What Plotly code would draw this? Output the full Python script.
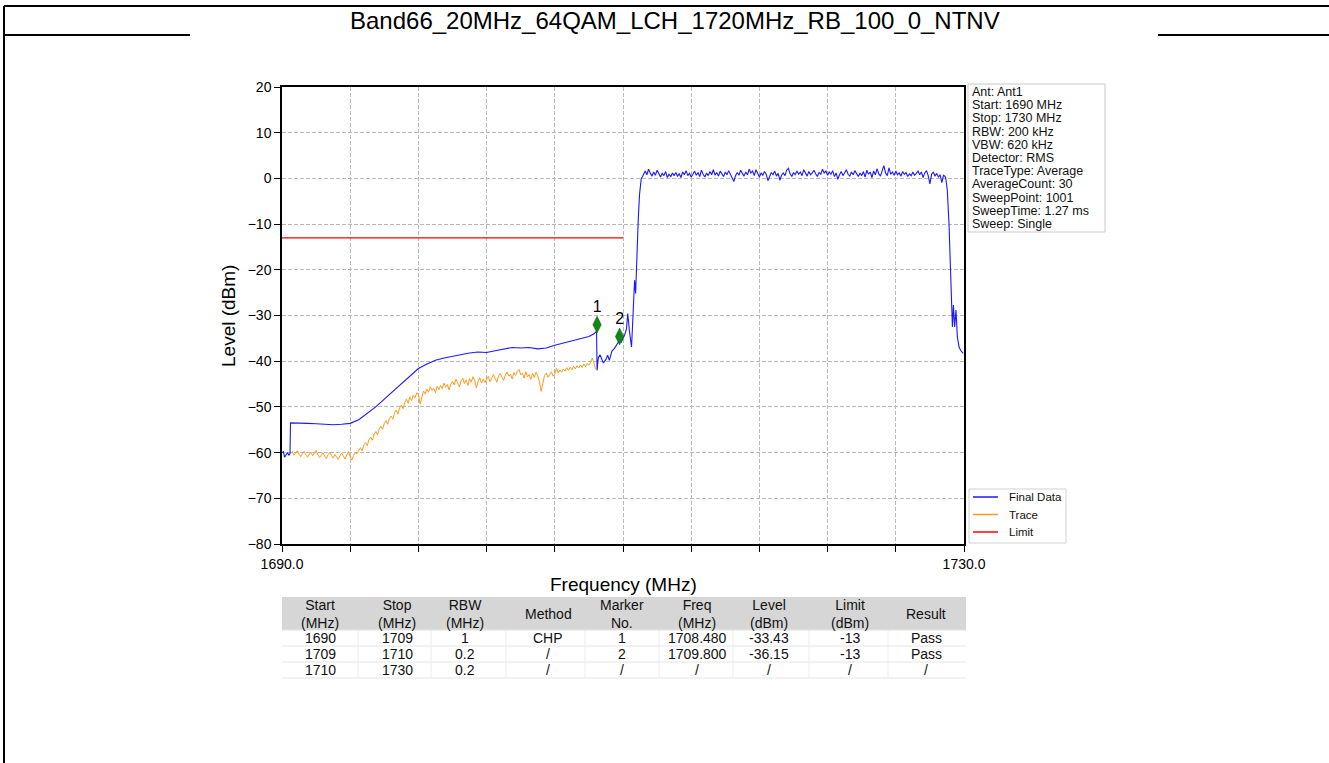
import plotly.graph_objects as go

W, H = 1329, 763


def px(x):
    return x / W


def py(y):
    return 1 - y / H


title_text = "Band66_20MHz_64QAM_LCH_1720MHz_RB_100_0_NTNV"

# ---------------- data ----------------
# Final Data, out-of-band part (explicit points)
final_low_freq = [1690.0, 1690.08, 1690.15, 1690.25, 1690.32, 1690.4, 1690.47, 1690.5,
                  1691.0, 1691.5, 1692.0, 1692.5, 1693.0, 1693.5, 1694.0, 1694.5, 1695.0,
                  1695.5, 1696.0, 1696.5, 1697.0, 1697.5, 1698.0, 1698.5, 1699.0, 1699.5,
                  1700.0, 1700.5, 1701.0, 1701.5, 1702.0, 1702.5, 1703.0, 1703.5, 1704.0,
                  1704.5, 1705.0, 1705.5, 1706.0, 1706.5, 1707.0, 1707.5, 1708.0, 1708.3,
                  1708.45, 1708.48, 1708.55, 1708.65, 1708.75, 1708.85, 1709.0, 1709.1,
                  1709.2, 1709.35, 1709.5, 1709.6, 1709.7, 1709.8, 1709.9, 1710.0, 1710.1,
                  1710.2, 1710.28, 1710.38, 1710.5, 1710.55, 1710.62, 1710.68, 1710.74,
                  1710.82, 1710.9, 1710.97, 1711.07, 1711.15]
final_low_level = [-60.0, -59.8, -61.0, -60.3, -60.0, -60.6, -60.2, -53.5,
                   -53.5, -53.6, -53.7, -53.8, -53.9, -53.8, -53.6, -52.8, -51.4,
                   -50.0, -48.3, -46.6, -44.9, -43.2, -41.6, -40.6, -39.8, -39.3,
                   -38.9, -38.5, -38.2, -38.0, -38.1, -37.7, -37.4, -37.0, -37.1,
                   -37.0, -37.3, -37.1, -36.5, -36.0, -35.5, -35.0, -34.6, -34.0,
                   -33.4, -42.0, -39.3, -38.6, -39.7, -40.4, -39.6, -38.7,
                   -39.8, -37.8, -37.2, -36.6, -36.0, -35.4, -35.8, -35.0, -34.2,
                   -33.0, -29.6, -33.5, -36.9, -33.0, -26.5, -22.3, -25.2,
                   -15.7, -8.5, -3.5, 0.0, 0.4]

# Final Data, in-band part (sweep points every 0.1 MHz from 1711.2 MHz)
final_band_start = 1711.2
final_band_step = 0.1
final_band_level = [
    0.9, 1.6, 0.8, 2.0, 1.2, 0.5, 1.4, 0.7, 1.8, 0.9,
    0.3, 1.1, 0.6, 1.5, 0.2, 0.9, 0.4, 1.2, 0.6, 1.3,
    0.5, 1.0, 0.2, 1.4, 0.8, 1.7, 0.6, 1.1, 0.3, 0.9,
    1.6, 0.7, 1.3, 0.4, 1.8, 0.9, 0.3, 1.2, 0.6, 1.5,
    0.8, 1.9, 0.7, 1.3, 0.5, 1.6, 1.0, 0.4, 1.4, 0.8,
    1.7, 0.9, 0.2, -0.7, 0.6, 1.3, 0.7, 1.8, 1.1, 0.5,
    1.4, 0.8, 2.0, 1.2, 1.6, 0.6, 1.9, 1.0, 0.3, 1.2,
    0.7, 1.5, 0.9, -0.5, 0.6, 1.3, 0.8, 1.6, 0.5, 1.1,
    -0.4, 0.7, 1.2, 0.6, 1.8, 2.2, 1.0, 0.4, 1.3, 0.8,
    1.6, 0.9, 1.4, 0.6, 1.9, 1.1, 0.5, 1.5, 0.8, 1.2,
    1.8, 1.0, 0.4, 1.3, 0.9, 2.0, 1.2, 1.6, 0.7, 1.4,
    0.9, 1.7, 0.4, 1.2, -0.2, 0.8, 1.5, 0.6, 1.3, 1.9,
    0.9, 0.5, 1.4, 0.8, 1.7, 1.0, 0.4, 1.2, 0.6, 1.5,
    0.3, 1.8, 0.9, 1.4, 0.2, 1.6, 0.8, 2.1, 1.0, 0.5,
    1.5, 2.8, 1.2, 0.6, 2.3, 0.9, 1.4, 0.7, 1.6, 0.8,
    1.2, 0.5, 1.5, 0.9, 1.3, 0.4, 1.0, 0.6, 1.4, 0.7,
    1.1, 1.6, 0.8, 1.4, 0.2, 1.2, 1.7, 0.6, -1.2, 0.9,
    1.4, 0.5, 1.1, 0.3, 0.8, -0.9, 0.7, 0.4]

# Final Data, upper band edge (explicit points)
final_edge_freq = [1728.93, 1729.02, 1729.12, 1729.22, 1729.32, 1729.38, 1729.45,
                   1729.53, 1729.61, 1729.71, 1729.8, 1729.95]
final_edge_level = [0.0, -2.6, -9.9, -19.3, -32.5, -27.7, -32.5,
                    -28.8, -34.7, -36.9, -37.6, -38.3]

# Trace (RBW 200 kHz), sweep points every 0.1 MHz from 1690.5 MHz
trace_start = 1690.5
trace_step = 0.1
trace_level = [
    -60.2, -59.8, -60.6, -60.1, -59.6, -60.4, -60.9, -60.2, -59.7, -60.5,
    -61.0, -60.3, -59.9, -60.7, -60.1, -59.5, -60.4, -61.1, -60.6, -60.0,
    -60.8, -61.3, -60.5, -59.9, -60.6, -61.2, -60.4, -60.9, -61.5, -60.7,
    -60.1, -60.8, -61.4, -60.5, -59.8, -60.9, -61.6, -60.6, -60.0, -60.3,
    -59.4, -58.9, -59.6, -58.3, -57.8, -58.5, -57.2, -56.6, -57.3, -56.0,
    -55.4, -56.1, -54.8, -54.2, -54.9, -53.6, -53.0, -53.8, -52.5, -52.0,
    -52.7, -51.3, -50.7, -51.6, -50.2, -49.6, -50.4, -49.0, -48.3, -49.2,
    -47.8, -48.6, -47.4, -48.0, -46.9,
    -47.3, -49.4, -47.6, -46.5, -47.2, -46.1, -46.8, -45.6, -46.4, -45.9,
    -46.9, -45.5, -46.2, -45.3, -46.0, -44.8, -45.7, -45.1, -46.3, -45.0,
    -44.4, -45.2, -43.9, -44.7, -45.6, -44.3, -43.7, -44.9, -44.1, -45.3,
    -43.8, -44.6, -43.4, -44.2, -45.8, -44.5, -43.6, -44.8, -43.9, -44.7,
    -44.1, -43.3, -44.5, -43.6, -42.9, -43.8, -44.6, -43.2, -42.7, -43.5,
    -44.2, -43.0, -42.4, -43.3, -42.8, -43.9, -42.5, -43.1, -42.2, -41.8,
    -43.0, -42.6, -43.7, -42.3, -43.4, -42.9, -44.0, -42.7, -43.6, -42.4,
    -43.2, -44.5, -46.6, -44.8, -43.1, -42.6, -43.5, -42.9, -42.3, -43.3,
    -42.8, -41.5, -42.6, -41.9, -42.4, -41.7, -42.2, -41.4, -42.0, -41.3,
    -41.9, -41.1, -41.7, -41.0, -41.5, -40.8, -41.4, -40.6, -41.2, -40.5,
    -40.9, -40.2, -39.3, -40.4, -41.8]

limit_freq = [1690.0, 1710.0]
limit_level = [-13.0, -13.0]

marker_no = ["1", "2"]
marker_freq = [1708.48, 1709.80]
marker_level = [-32.0, -34.6]

x_tick_vals = [1690, 1694, 1698, 1702, 1706, 1710, 1714, 1718, 1722, 1726, 1730]
x_tick_text = ["1690.0", "", "", "", "", "", "", "", "", "", "1730.0"]

info_lines = ["Ant: Ant1", "Start: 1690 MHz", "Stop: 1730 MHz", "RBW: 200 kHz",
              "VBW: 620 kHz", "Detector: RMS", "TraceType: Average",
              "AverageCount: 30", "SweepPoint: 1001", "SweepTime: 1.27 ms",
              "Sweep: Single"]

legend_names = ["Final Data", "Trace", "Limit"]

table_header = ["Start<br>(MHz)", "Stop<br>(MHz)", "RBW<br>(MHz)", "Method",
                "Marker<br>No.", "Freq<br>(MHz)", "Level<br>(dBm)", "Limit<br>(dBm)", "Result"]
table_rows = [
    ["1690", "1709", "1", "CHP", "1", "1708.480", "-33.43", "-13", "Pass"],
    ["1709", "1710", "0.2", "/", "2", "1709.800", "-36.15", "-13", "Pass"],
    ["1710", "1730", "0.2", "/", "/", "/", "/", "/", "/"],
]

# ---------------- styles ----------------
FONT = "Liberation Sans, Arial, sans-serif"
C_FINAL = "#1a1aff"
C_TRACE = "#ff9a1a"
C_LIMIT = "#ff0000"
C_MARK = "#118811"
legend_colors = [C_FINAL, C_TRACE, C_LIMIT]

band_freq = [round(final_band_start + i * final_band_step, 2) for i in range(len(final_band_level))]
final_freq = final_low_freq + band_freq + final_edge_freq
final_level = final_low_level + final_band_level + final_edge_level
trace_freq = [round(trace_start + i * trace_step, 2) for i in range(len(trace_level))]

fig = go.Figure()
fig.add_trace(go.Scatter(x=trace_freq, y=trace_level, mode="lines", name="Trace",
                         line=dict(color=C_TRACE, width=1), showlegend=False))
fig.add_trace(go.Scatter(x=final_freq, y=final_level, mode="lines", name="Final Data",
                         line=dict(color=C_FINAL, width=1.1), showlegend=False))
fig.add_trace(go.Scatter(x=limit_freq, y=limit_level, mode="lines", name="Limit",
                         line=dict(color=C_LIMIT, width=1.3), showlegend=False))
fig.add_trace(go.Scatter(x=marker_freq, y=marker_level, mode="markers+text", text=marker_no,
                         textposition="top center",
                         textfont=dict(family=FONT, size=16, color="black"),
                         marker=dict(symbol="diamond-tall", size=12, color=C_MARK,
                                     line=dict(color="#0a5a0a", width=0.5)),
                         showlegend=False))

# plot area in pixels
L, R, T, B = 282, 964, 87, 544

fig.update_layout(
    width=W, height=H,
    margin=dict(l=0, r=0, t=0, b=0, pad=0, autoexpand=False),
    paper_bgcolor="white", plot_bgcolor="white",
    font=dict(family=FONT, color="black"),
    showlegend=False,
    xaxis=dict(domain=[px(L), px(R)], range=[1690, 1730], tickvals=x_tick_vals,
               ticktext=x_tick_text, ticks="outside", ticklen=6, tickwidth=1,
               tickcolor="black", showline=True, mirror=True, linecolor="black",
               linewidth=1.5, showgrid=True, gridcolor="#b8b8b8", gridwidth=0.8,
               griddash="4px,2px", zeroline=False, automargin=False,
               tickfont=dict(size=14, family=FONT)),
    yaxis=dict(domain=[py(B), py(T)], range=[-80, 20], dtick=10, tick0=0,
               ticks="outside", ticklen=6, tickwidth=1, tickcolor="black",
               showline=True, mirror=True, linecolor="black", linewidth=1.5,
               showgrid=True, gridcolor="#b8b8b8", gridwidth=0.8, griddash="4px,2px",
               zeroline=False, automargin=False, tickfont=dict(size=14, family=FONT)),
)

shapes = []
annotations = []

# document frame lines
shapes.append(dict(type="line", xref="paper", yref="paper", x0=px(4), x1=1, y0=py(6), y1=py(6),
                   line=dict(color="black", width=2), layer="above"))
shapes.append(dict(type="line", xref="paper", yref="paper", x0=px(4), x1=px(190), y0=py(35), y1=py(35),
                   line=dict(color="black", width=2), layer="above"))
shapes.append(dict(type="line", xref="paper", yref="paper", x0=px(1158), x1=1, y0=py(35), y1=py(35),
                   line=dict(color="black", width=2), layer="above"))
shapes.append(dict(type="line", xref="paper", yref="paper", x0=px(4), x1=px(4), y0=py(6), y1=0,
                   line=dict(color="black", width=2), layer="above"))

annotations.append(dict(text=title_text, xref="paper", yref="paper", x=px(675), y=py(20),
                        xanchor="center", yanchor="middle", showarrow=False,
                        font=dict(family=FONT, size=24, color="black")))

# axis titles
annotations.append(dict(text="Frequency (MHz)", xref="paper", yref="paper", x=px(623), y=py(584),
                        xanchor="center", yanchor="middle", showarrow=False,
                        font=dict(family=FONT, size=19)))
annotations.append(dict(text="Level (dBm)", xref="paper", yref="paper", x=px(228), y=py(316),
                        xanchor="center", yanchor="middle", showarrow=False, textangle=-90,
                        font=dict(family=FONT, size=19)))

# info box
shapes.append(dict(type="rect", xref="paper", yref="paper", x0=px(968), x1=px(1105),
                   y0=py(232), y1=py(84), line=dict(color="#c8c8c8", width=1),
                   fillcolor="white"))
for i, s in enumerate(info_lines):
    annotations.append(dict(text=s, xref="paper", yref="paper", x=px(971), y=py(92 + i * 13.2),
                            xanchor="left", yanchor="middle", showarrow=False, borderpad=0,
                            font=dict(family=FONT, size=12.5, color="#111111")))

# legend
shapes.append(dict(type="rect", xref="paper", yref="paper", x0=px(969), x1=px(1066),
                   y0=py(543), y1=py(489), line=dict(color="#d0d0d0", width=1),
                   fillcolor="white"))
for i, (nm, col) in enumerate(zip(legend_names, legend_colors)):
    yy = 497 + i * 17.5
    shapes.append(dict(type="line", xref="paper", yref="paper", x0=px(973), x1=px(998),
                       y0=py(yy), y1=py(yy), line=dict(color=col, width=1.5)))
    annotations.append(dict(text=nm, xref="paper", yref="paper", x=px(1007), y=py(yy),
                            xanchor="left", yanchor="middle", showarrow=False,
                            font=dict(family=FONT, size=11.5, color="#111111")))

# table
col_edges = [282, 358, 431, 506, 585, 659, 733, 809, 888, 966]
col_centers = [320, 397, 465, 548, 622, 697, 769, 850, 926]
row_edges = [597, 630, 646, 662, 678]
shapes.append(dict(type="rect", xref="paper", yref="paper", x0=px(col_edges[0]), x1=px(col_edges[-1]),
                   y0=py(row_edges[1]), y1=py(row_edges[0]), line=dict(width=0),
                   fillcolor="#d6d6d6", layer="below"))
for yy in row_edges[1:]:
    shapes.append(dict(type="line", xref="paper", yref="paper", x0=px(col_edges[0]), x1=px(col_edges[-1]),
                       y0=py(yy), y1=py(yy), line=dict(color="#e4e4e4", width=1)))
for xx in col_edges[1:-1]:
    shapes.append(dict(type="line", xref="paper", yref="paper", x0=px(xx), x1=px(xx),
                       y0=py(row_edges[-1]), y1=py(row_edges[1]), line=dict(color="#ececec", width=1)))
for c, h in zip(col_centers, table_header):
    annotations.append(dict(text=h, xref="paper", yref="paper", x=px(c), y=py(613.5),
                            xanchor="center", yanchor="middle", showarrow=False,
                            font=dict(family=FONT, size=14, color="#111111")))
for r, row in enumerate(table_rows):
    yy = (row_edges[r + 1] + row_edges[r + 2]) / 2
    for c, v in zip(col_centers, row):
        annotations.append(dict(text=v, xref="paper", yref="paper", x=px(c), y=py(yy),
                                xanchor="center", yanchor="middle", showarrow=False,
                                font=dict(family=FONT, size=14, color="#111111")))

fig.update_layout(shapes=shapes, annotations=annotations)
fig.write_html("out.html", config={"displayModeBar": False},
               post_script="document.body.style.margin='0px';document.body.style.padding='0px';")
